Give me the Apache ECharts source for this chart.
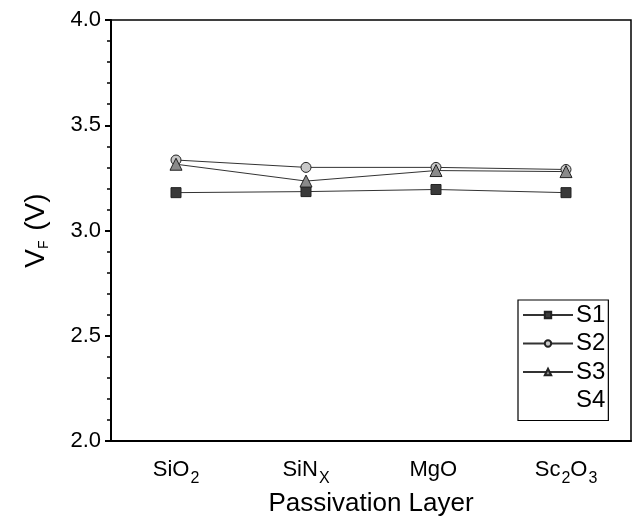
<!DOCTYPE html>
<html>
<head>
<meta charset="utf-8">
<script src="https://cdn.jsdelivr.net/npm/echarts@6/dist/echarts.min.js"></script>
<style>
    html, body { margin: 0; padding: 0; background: #fff; }
    #chart { width: 634px; height: 522px; }
</style>
</head>
<body>
<div id="chart"></div>
<script>
// data
let categories = ['SiO2', 'SiNX', 'MgO', 'Sc2O3'];
let categoryLabels = ['SiO{s|2}', 'SiN{s|X}', 'MgO{s| }', 'Sc{s|2}O{s|3}'];
let s1 = [3.18, 3.185, 3.195, 3.18];
let s2 = [3.335, 3.30, 3.30, 3.29];
let s3 = [3.315, 3.235, 3.285, 3.28];
let s4 = [];
let yTicks = [2.0, 2.5, 3.0, 3.5, 4.0];

var dom = document.getElementById('chart');
var myChart = echarts.init(dom, null, { renderer: 'canvas' });

var font = 'Liberation Sans, Arial, sans-serif';

function makeSeries(name, data, symbol, fill) {
    return {
        name: name,
        type: 'line',
        data: data,
        symbol: symbol,
        symbolSize: symbol == 'triangle' ? 12 : 10,
        showSymbol: true,
        lineStyle: { color: '#333', width: 1 },
        itemStyle: { color: fill, borderColor: '#222', borderWidth: 1 },
        z: 3
    };
}

var option = {
    backgroundColor: '#fff',
    animation: false,
    grid: {
        left: 111, right: 3, top: 20, bottom: 80,
        show: true, borderColor: '#000', borderWidth: 1.5, backgroundColor: 'transparent'
    },
    legend: {
        orient: 'vertical',
        left: 518, top: 300,
        padding: [3, 3, 8, 4],
        borderColor: '#000', borderWidth: 1.2,
        itemWidth: 50, itemHeight: 8,
        itemGap: 4.5,
        textStyle: { fontFamily: font, fontSize: 24, color: '#000', lineHeight: 24, padding: [0, 0, 0, -2] },
        data: ['S1', 'S2', 'S3', { name: 'S4', icon: 'none' }]
    },
    xAxis: {
        type: 'category',
        data: categories,
        boundaryGap: true,
        name: 'Passivation Layer',
        nameLocation: 'middle',
        nameGap: 45,
        nameTextStyle: { fontFamily: font, fontSize: 26, color: '#000' },
        axisLine: { lineStyle: { color: '#000', width: 2 } },
        axisTick: { alignWithLabel: true, length: 6, lineStyle: { color: '#000', width: 2 } },
        axisLabel: {
            interval: 0,
            margin: 13,
            color: '#000',
            fontFamily: font,
            fontSize: 22,
            formatter: function (v, i) { return categoryLabels[i]; },
            rich: {
                s: { fontFamily: font, fontSize: 16, color: '#000', padding: [16, 0, 0, 1] }
            }
        },
        splitLine: { show: false }
    },
    yAxis: {
        type: 'value',
        min: yTicks[0],
        max: yTicks[yTicks.length - 1],
        interval: 0.5,
        name: '{a|V}{b|F}{a| (V)}',
        nameLocation: 'middle',
        nameGap: 60,
        nameTextStyle: {
            rich: {
                a: { fontFamily: font, fontSize: 28, color: '#000' },
                b: { fontFamily: font, fontSize: 14, color: '#000', padding: [16, 2, 0, 0] }
            }
        },
        axisLine: { show: true, lineStyle: { color: '#000', width: 2 } },
        axisTick: { show: true, length: 6, lineStyle: { color: '#000', width: 2 } },
        minorTick: { show: true, splitNumber: 5, length: 4, lineStyle: { color: '#000', width: 1.5 } },
        axisLabel: {
            margin: 10,
            color: '#000',
            fontFamily: font,
            fontSize: 22,
            formatter: function (v) { return v.toFixed(1); }
        },
        splitLine: { show: false }
    },
    series: [
        makeSeries('S1', s1, 'rect', '#3a3a3a'),
        makeSeries('S2', s2, 'circle', '#c8c8c8'),
        makeSeries('S3', s3, 'triangle', '#8a8a8a'),
        { name: 'S4', type: 'line', data: s4, symbol: 'none', lineStyle: { width: 0 } }
    ]
};

myChart.setOption(option);
window.addEventListener('resize', myChart.resize);
</script>
</body>
</html>
